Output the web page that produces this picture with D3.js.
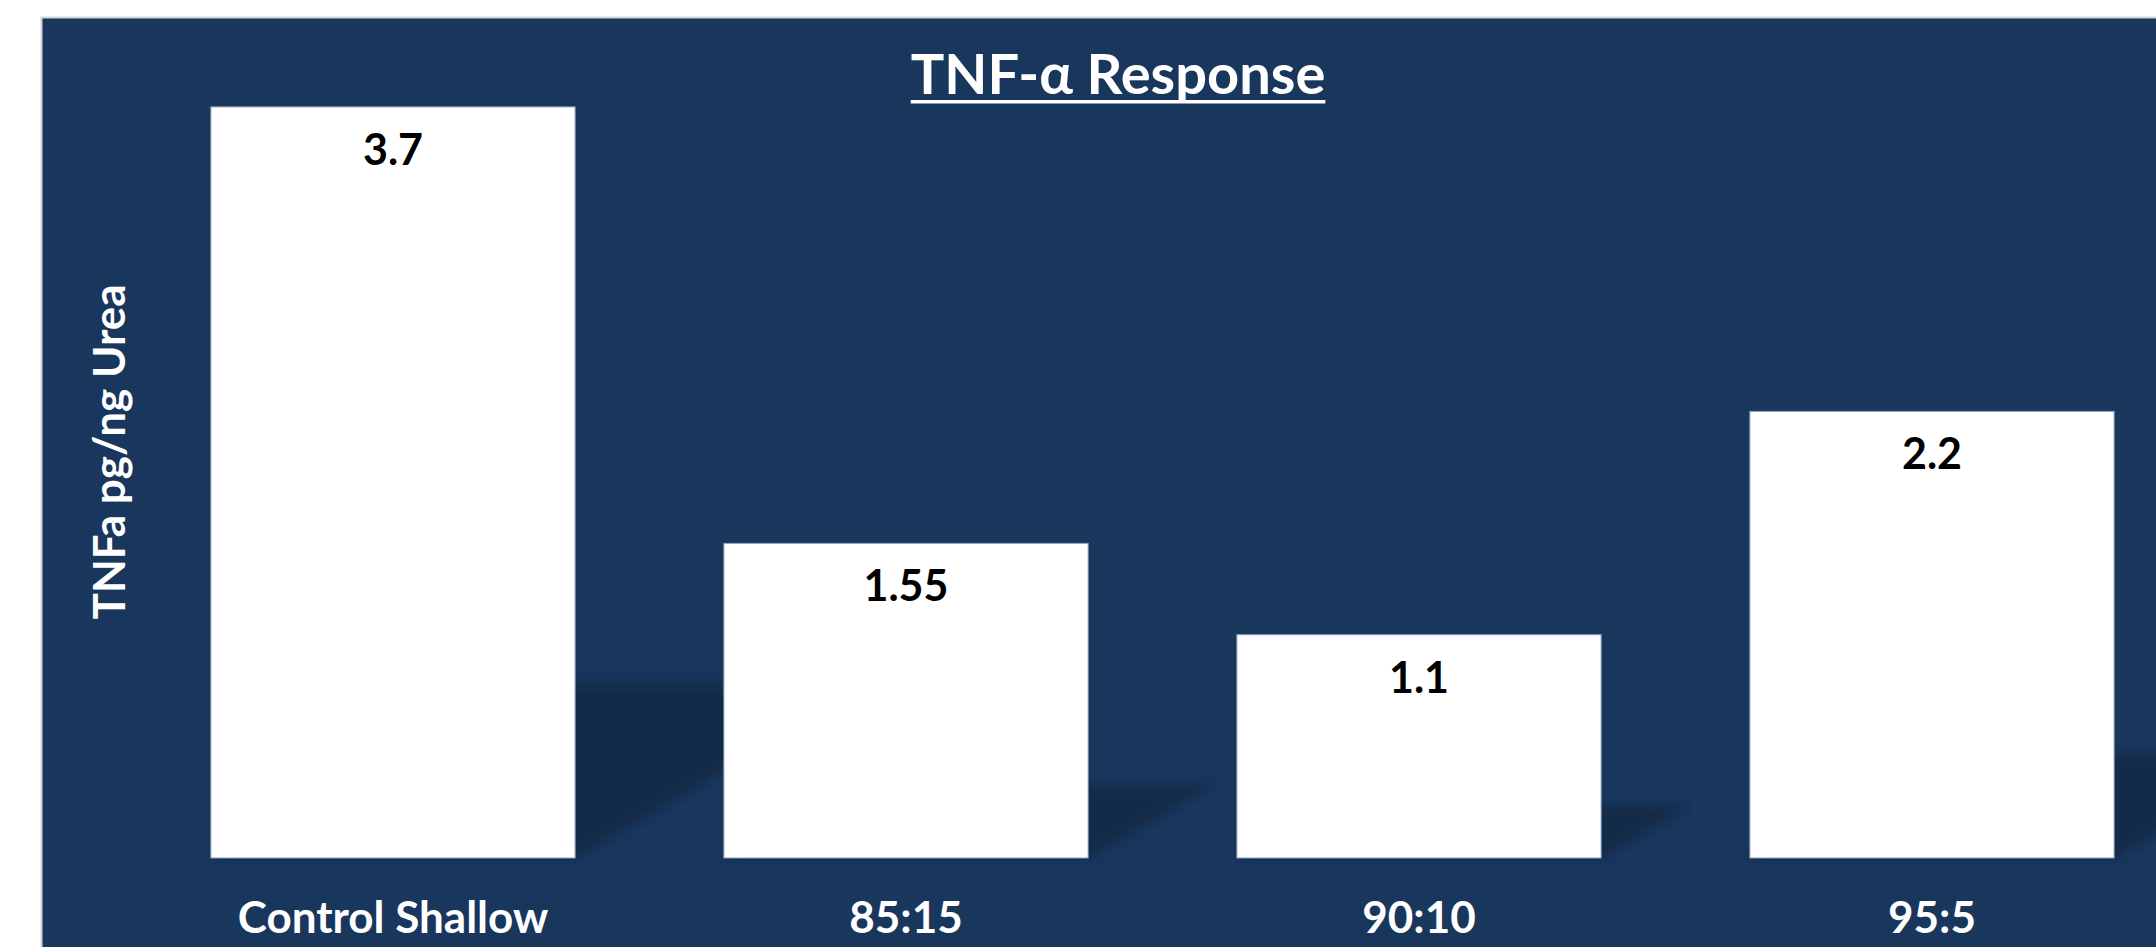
<!DOCTYPE html>
<html>
<head>
<meta charset="utf-8" />
<title>TNF-α Response</title>
<style>
body { margin: 0; background: #ffffff; }
svg text { font-family: Lato, "Open Sans", sans-serif; font-weight: bold; }
</style>
<script src="https://d3js.org/d3.v7.min.js"></script>
</head>
<body>
<svg class="chart"></svg>
<script>

/* chart data */
var categories = ["Control Shallow", "85:15", "90:10", "95:5"];
var values = [3.7, 1.55, 1.1, 2.2];
var value_labels = ["3.7", "1.55", "1.1", "2.2"];
var chart_title = "TNF-α Response";
var y_title = "TNFa pg/ng Urea";

var width = 2156;
var height = 947;
var bg_color = "#19365d";

var svg = d3.select(".chart")
    .attr("width", width)
    .attr("height", height);

var defs = svg.append("defs");
defs.append("filter")
    .attr("id", "soft")
    .attr("x", "-20%").attr("y", "-20%")
    .attr("width", "140%").attr("height", "140%")
  .append("feGaussianBlur")
    .attr("stdDeviation", 5);

// panel background with light border
svg.append("rect")
    .attr("x", 41.5)
    .attr("y", 17.5)
    .attr("width", 2200)
    .attr("height", 1000)
    .attr("fill", bg_color)
    .attr("stroke", "#d4d4d4")
    .attr("stroke-width", 2);

// scales
var x = d3.scaleBand()
    .domain(categories)
    .range([136.5, 2188.5])
    .paddingInner(0.29)
    .paddingOuter(0.145);

var y = d3.scaleLinear()
    .domain([0, 4])
    .range([858, 46]);

var data = categories.map(function(c, i) {
  return { cat: c, value: values[i], label: value_labels[i] };
});

// perspective shadows (skewed, flattened copies of the bars)
var shadow_scale = 0.233;
var shadow_skew = 1.7;
svg.append("g")
  .selectAll("path")
  .data(data)
  .enter()
  .append("path")
    .attr("filter", "url(#soft)")
    .attr("fill", "#0f2640")
    .attr("fill-opacity", 0.75)
    .attr("d", function(d) {
      var x0 = x(d.cat), x1 = x(d.cat) + x.bandwidth();
      var h = (y(0) - y(d.value)) * shadow_scale;
      var dx = h * shadow_skew;
      return "M" + x0 + "," + y(0) +
             "L" + x1 + "," + y(0) +
             "L" + (x1 + dx) + "," + (y(0) - h) +
             "L" + (x0 + dx) + "," + (y(0) - h) + "Z";
    });

// bars
svg.append("g")
  .selectAll("rect")
  .data(data)
  .enter()
  .append("rect")
    .attr("x", function(d) { return x(d.cat); })
    .attr("y", function(d) { return y(d.value); })
    .attr("width", x.bandwidth())
    .attr("height", function(d) { return y(0) - y(d.value); })
    .attr("fill", "#ffffff")
    .attr("stroke", "#8ea0bb")
    .attr("stroke-width", 1);

// value labels inside bar tops
svg.append("g")
  .selectAll("text")
  .data(data)
  .enter()
  .append("text")
    .attr("x", function(d) { return x(d.cat) + x.bandwidth() / 2; })
    .attr("y", function(d) { return y(d.value) + 58; })
    .attr("text-anchor", "middle")
    .attr("font-size", 43)
    .attr("font-weight", 900)
    .attr("fill", "#000000")
    .text(function(d) { return d.label; });

// category axis (no line, no ticks)
var x_axis = svg.append("g")
    .attr("transform", "translate(0,858)")
    .call(d3.axisBottom(x).tickSize(0).tickPadding(0));
x_axis.select(".domain").remove();
x_axis.selectAll("text")
    .attr("y", 75)
    .attr("dy", 0)
    .attr("font-size", 44)
    .attr("font-family", "Lato, 'Open Sans', sans-serif")
    .attr("font-weight", "bold")
    .attr("fill", "#ffffff");

// y axis title
svg.append("text")
    .attr("transform", "translate(125,452) rotate(-90)")
    .attr("text-anchor", "middle")
    .attr("font-size", 44)
    .attr("fill", "#ffffff")
    .text(y_title);

// chart title with underline
var title = svg.append("text")
    .attr("x", 1118)
    .attr("y", 94)
    .attr("text-anchor", "middle")
    .attr("font-size", 56)
    .attr("fill", "#ffffff")
    .text(chart_title);

var tw = title.node().getComputedTextLength();
svg.append("rect")
    .attr("x", 1118 - tw / 2)
    .attr("y", 100)
    .attr("width", tw)
    .attr("height", 3.5)
    .attr("fill", "#ffffff");

</script>
</body>
</html>
